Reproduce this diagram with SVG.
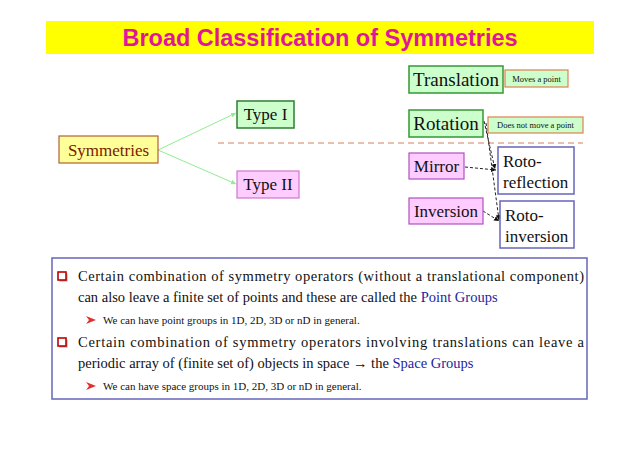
<svg xmlns="http://www.w3.org/2000/svg" width="638" height="451" viewBox="0 0 638 451">
<style>
.t{font-family:"Liberation Serif",serif;fill:#111}
.n{font-size:17px}
.b{font-size:19px}
.s{font-size:8.5px}
.body{font-family:"Liberation Serif",serif;font-size:14.5px;fill:#111}
.sub{font-family:"Liberation Serif",serif;font-size:11px;fill:#111}
.blue{fill:#2424A0}
.green{fill:#CCFFCC;stroke:#339933;stroke-width:1.5}
.pink{fill:#FFCCFF;stroke:#B050C0;stroke-width:1.2}
.roto{fill:#fff;stroke:#6666BB;stroke-width:1.5}
.lbl{fill:#CCFFCC;stroke:#E08050;stroke-width:1.2}
.g{stroke:#90EE90;stroke-width:1;fill:none}
.d{stroke:#222;stroke-width:1;stroke-dasharray:3,2;fill:none}
</style>
<defs>
<marker id="ag" markerWidth="6" markerHeight="6" refX="5" refY="3" orient="auto" markerUnits="userSpaceOnUse"><path d="M0,0.5 L5,3 L0,5.5 z" fill="#90EE90"/></marker>
<marker id="ab" markerWidth="6" markerHeight="6" refX="5" refY="3" orient="auto" markerUnits="userSpaceOnUse"><path d="M0,0.5 L5,3 L0,5.5 z" fill="#111"/></marker>
</defs>
<rect width="638" height="451" fill="#fff"/>
<g id="title">
<rect x="46" y="21" width="548" height="33" fill="#FFFF00"/>
<text x="320" y="46" text-anchor="middle" font-family="Liberation Sans,Arial,sans-serif" font-weight="bold" font-size="23" fill="#E0159B" textLength="395" lengthAdjust="spacingAndGlyphs">Broad Classification of Symmetries</text>
</g>
<g id="connectors">
<path class="g" d="M158,150 L236,113" marker-end="url(#ag)"/>
<path class="g" d="M158,150 L236,184" marker-end="url(#ag)"/>
<path d="M218,143 L583,143" stroke="#D0805A" stroke-width="1" stroke-dasharray="6,4" fill="none"/>
<path class="d" d="M465,167 L496,170" marker-end="url(#ab)"/>
<path class="d" d="M483,211 L499,221" marker-end="url(#ab)"/>
<path class="d" d="M484,121 L495,169" marker-end="url(#ab)"/>
<path class="d" d="M486,123 L499,220" marker-end="url(#ab)"/>
</g>
<g id="symmetries">
<rect x="59" y="136" width="99" height="27" fill="#FFFF99" stroke="#B0603A" stroke-width="1.2"/>
<text x="108.5" y="156" text-anchor="middle" class="t n" style="fill:#7A1A00">Symmetries</text>
</g>
<g id="type1">
<rect x="237" y="101" width="57" height="27" class="green" style="stroke:#2E7D32"/>
<text x="265.5" y="120" text-anchor="middle" class="t n">Type I</text>
</g>
<g id="type2">
<rect x="237" y="171" width="62" height="27" fill="#FFCCFF" stroke="#CC77CC" stroke-width="1.2"/>
<text x="268" y="190" text-anchor="middle" class="t n">Type II</text>
</g>
<g id="translation">
<rect x="409" y="66" width="94" height="27" class="green"/>
<text x="456" y="86" text-anchor="middle" class="t b">Translation</text>
</g>
<g id="moves">
<rect x="505" y="70" width="63" height="17" class="lbl"/>
<text x="536.5" y="81.5" text-anchor="middle" class="t s">Moves a point</text>
</g>
<g id="rotation">
<rect x="409" y="110" width="74" height="27" class="green"/>
<text x="446" y="130" text-anchor="middle" class="t b">Rotation</text>
</g>
<g id="notmove">
<rect x="488" y="117" width="95" height="16" class="lbl"/>
<text x="535.5" y="128" text-anchor="middle" class="t s">Does not move a point</text>
</g>
<g id="mirror">
<rect x="409" y="153" width="55" height="26" class="pink"/>
<text x="436.5" y="172" text-anchor="middle" class="t n">Mirror</text>
</g>
<g id="inversion">
<rect x="409" y="198" width="74" height="26" class="pink"/>
<text x="446" y="217" text-anchor="middle" class="t n">Inversion</text>
</g>
<g id="rotoreflection">
<rect x="498" y="147" width="76" height="47" class="roto"/>
<text x="503" y="167" class="t n">Roto-</text>
<text x="503" y="188" class="t n">reflection</text>
</g>
<g id="rotoinversion">
<rect x="500" y="201" width="74" height="47" class="roto"/>
<text x="505" y="221" class="t n">Roto-</text>
<text x="505" y="242" class="t n">inversion</text>
</g>
<g id="notes">
<rect x="52" y="258" width="535" height="141" fill="#fff" stroke="#6666BB" stroke-width="1.5"/>
<rect x="59.5" y="273.5" width="8" height="8" fill="#999" stroke="none"/>
<rect x="58" y="272" width="8" height="8" fill="#fff" stroke="#C00000" stroke-width="1.6"/>
<rect x="59.5" y="339.5" width="8" height="8" fill="#999" stroke="none"/>
<rect x="58" y="338" width="8" height="8" fill="#fff" stroke="#C00000" stroke-width="1.6"/>
<text x="78" y="281" class="body" textLength="506" lengthAdjust="spacing">Certain combination of symmetry operators (without a translational component)</text>
<text x="78" y="302" class="body">can also leave a finite set of points and these are called the <tspan class="blue">Point Groups</tspan></text>
<path d="M86,316 L96,320 L86,324 L89,320 z" fill="#E03030"/>
<text x="103" y="324" class="sub">We can have point groups in 1D, 2D, 3D or nD in general.</text>
<text x="78" y="347" class="body" textLength="506" lengthAdjust="spacing">Certain combination of symmetry operators involving translations can leave a</text>
<text x="78" y="368" class="body">periodic array of (finite set of) objects in space → the <tspan class="blue">Space Groups</tspan></text>
<path d="M86,382 L96,386 L86,390 L89,386 z" fill="#E03030"/>
<text x="103" y="390" class="sub">We can have space groups in 1D, 2D, 3D or nD in general.</text>
</g>
</svg>
